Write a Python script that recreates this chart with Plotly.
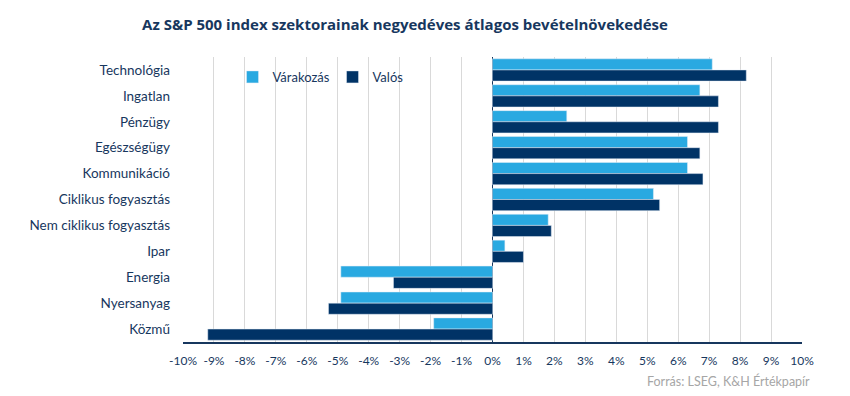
import plotly.graph_objects as go

categories = ["Technológia", "Ingatlan", "Pénzügy", "Egészségügy", "Kommunikáció",
              "Ciklikus fogyasztás", "Nem ciklikus fogyasztás", "Ipar", "Energia",
              "Nyersanyag", "Közmű"]
varakozas = [7.1, 6.7, 2.4, 6.3, 6.3, 5.2, 1.8, 0.4, -4.9, -4.9, -1.9]
valos = [8.2, 7.3, 7.3, 6.7, 6.8, 5.4, 1.9, 1.0, -3.2, -5.3, -9.2]
tick_vals = list(range(-10, 11))
tick_text = [f"{v}%" for v in tick_vals]

navy = "#17375e"
fig = go.Figure()
fig.add_trace(go.Bar(y=categories, x=varakozas, orientation="h", name="Várakozás",
                     marker_color="#29a9e1", hoverinfo="skip"))
fig.add_trace(go.Bar(y=categories, x=valos, orientation="h", name="Valós",
                     marker_color="#003366", hoverinfo="skip"))

fig.update_layout(
    width=834, height=380,
    margin=dict(l=175, r=40, t=49, b=46),
    paper_bgcolor="white", plot_bgcolor="white",
    barmode="group", bargap=0.14, bargroupgap=0,
    font=dict(family="Lato", size=12, color=navy),
    title=dict(text="<b>Az S&P 500 index szektorainak negyedéves átlagos bevételnövekedése</b>",
               x=0.476, xanchor="center", y=0.955, yanchor="middle",
               font=dict(family="Open Sans", size=15, color=navy)),
    showlegend=True,
    legend=dict(orientation="h", x=0.08, xanchor="left", y=0.93, yanchor="middle",
                bgcolor="rgba(0,0,0,0)", font=dict(family="Lato", size=13, color=navy),
                traceorder="normal", itemwidth=30, entrywidth=55),
    xaxis=dict(range=[-10, 10], tickvals=tick_vals, ticktext=tick_text,
               showgrid=True, gridcolor="#d9d9d9", gridwidth=1,
               zeroline=True, zerolinecolor=navy, zerolinewidth=1,
               showline=True, linecolor=navy, linewidth=1.5,
               ticks="", ticklen=0, ticklabelstandoff=7,
               tickfont=dict(family="Lato", size=12, color=navy),
               fixedrange=True),
    yaxis=dict(categoryorder="array", categoryarray=categories, autorange="reversed",
               showgrid=False, showline=False, zeroline=False, ticks="",
               ticklabelstandoff=12,
               tickfont=dict(family="Lato", size=13.5, color=navy), fixedrange=True),
    annotations=[dict(text="Forrás: LSEG, K&H Értékpapír", xref="paper", yref="paper",
                      x=1.016, xanchor="right", y=-0.137, yanchor="middle", showarrow=False,
                      font=dict(family="Lato", size=12.5, color="#a6a6a6"))],
)
fig.write_html("out.html")
